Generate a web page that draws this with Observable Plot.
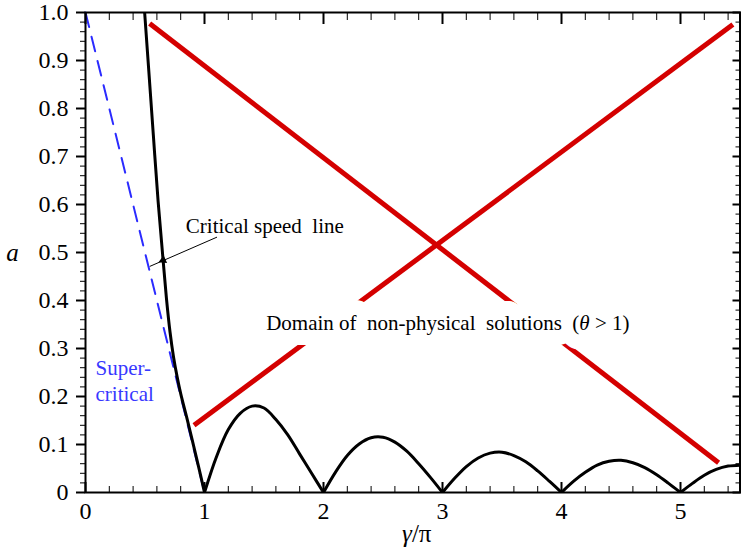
<!DOCTYPE html>
<html><head><meta charset="utf-8">
<script src="https://cdn.jsdelivr.net/npm/d3@7"></script>
<script src="https://cdn.jsdelivr.net/npm/@observablehq/plot@0.6"></script>
<style>
html,body{margin:0;padding:0;background:#fff;}
#chart{width:745px;height:549px;}
#chart svg text{white-space:pre;font-family:'Liberation Serif','Times New Roman',serif;}
</style>
</head><body><div id="chart"></div>
<script>
// ---- tick values / labels ----
const xMajorTicks = [0, 1, 2, 3, 4, 5];
const xTickLabels = ["0", "1", "2", "3", "4", "5"];
const yMajorTicks = [0, 0.1, 0.2, 0.3, 0.4, 0.5, 0.6, 0.7, 0.8, 0.9, 1.0];
const yTickLabels = ["0", "0.1", "0.2", "0.3", "0.4", "0.5", "0.6", "0.7", "0.8", "0.9", "1.0"];

// ---- critical speed line (black, steep branch) ----
const criticalX = [0.497, 0.53, 0.57, 0.61, 0.65, 0.68, 0.71, 0.74, 0.77, 0.80, 0.85, 0.90, 0.95, 1.0];
const criticalA = [1.0, 0.885, 0.745, 0.607, 0.49, 0.405, 0.335, 0.282, 0.241, 0.206, 0.157, 0.106, 0.054, 0.0];

// ---- super-critical line (blue dashed) ----
const superX = [0.0, 0.99];
const superA = [1.0, 0.01];

// ---- lobes of the black curve between integers ----
const lobeStart = [1, 2, 3, 4, 5];
const lobeOffset = [0, 0.1, 0.2, 0.3, 0.4, 0.5, 0.6, 0.7, 0.8, 0.9, 1.0];
const lobe1A = [0, 0.074, 0.131, 0.165, 0.180, 0.176, 0.152, 0.120, 0.080, 0.040, 0];
const lobe2A = [0, 0.042, 0.077, 0.101, 0.114, 0.115, 0.105, 0.086, 0.060, 0.031, 0];
const lobe3A = [0, 0.029, 0.054, 0.072, 0.082, 0.084, 0.077, 0.064, 0.045, 0.023, 0];
const lobe4A = [0, 0.023, 0.042, 0.057, 0.065, 0.067, 0.062, 0.052, 0.037, 0.019, 0];
const lobe5A = [0, 0.019, 0.036, 0.048, 0.055, 0.057];
const lobes = [lobe1A, lobe2A, lobe3A, lobe4A, lobe5A];

// ---- boundaries of the non-physical domain (red) ----
const redDownX = [0.539, 5.32];
const redDownA = [0.977, 0.062];
const redUpX = [0.912, 5.44];
const redUpA = [0.140, 0.975];

// ---- annotations ----
const critLabel = {text: "Critical speed  line", x: 0.843, a: 0.554};
const critArrow = {x1: 1.105, a1: 0.532, x2: 0.54, a2: 0.471, hx: 0.652, ha: 0.484};
const domainLabel = {text: "Domain of  non-physical  solutions  (θ > 1)", x: 1.518, a: 0.352};
const superLabels = [{text: "Super-", x: 0.084, a: 0.258}, {text: "critical", x: 0.084, a: 0.205}];

// ---- build tables ----
const critRows = criticalX.map((x, i) => ({x, a: criticalA[i]}));
const superRows = superX.map((x, i) => ({x, a: superA[i]}));
const lobeRows = lobes.flatMap((arr, k) => arr.map((a, j) => ({x: lobeStart[k] + lobeOffset[j], a, lobe: k})));
const redRows = [
  ...redDownX.map((x, i) => ({x, a: redDownA[i], s: "down"})),
  ...redUpX.map((x, i) => ({x, a: redUpA[i], s: "up"}))
];
const xMinor = d3.range(0, 5.5001, 0.2).map(v => +v.toFixed(2));
const yMinor = d3.range(0, 1.0001, 0.02).map(v => +v.toFixed(2));

const serif = "'Liberation Serif', 'Times New Roman', serif";

const chart = Plot.plot({
  width: 745,
  height: 549,
  marginLeft: 85,
  marginRight: 5.5,
  marginTop: 12,
  marginBottom: 57,
  style: {fontFamily: serif, fontSize: "21px", background: "white", color: "black", overflow: "visible"},
  x: {domain: [0, 5.5]},
  y: {domain: [0, 1]},
  marks: [
    // red boundaries
    Plot.line(redRows, {x: "x", y: "a", z: "s", stroke: "#d40000", strokeWidth: 5, strokeLinecap: "butt"}),
    // super-critical dashed
    Plot.line(superRows, {x: "x", y: "a", stroke: "#2b2bff", strokeWidth: 2, strokeDasharray: "15,10"}),
    // critical line
    Plot.line(critRows, {x: "x", y: "a", stroke: "black", strokeWidth: 3, curve: "catmull-rom", clip: true}),
    // lobes
    Plot.line(lobeRows, {x: "x", y: "a", z: "lobe", stroke: "black", strokeWidth: 3, curve: "catmull-rom", clip: true}),
    // white halo behind the domain label (interrupts the red lines)
    Plot.text([domainLabel], {x: "x", y: "a", text: "text", textAnchor: "start", lineAnchor: "middle",
      fontSize: 21, fill: "white", stroke: "white", strokeWidth: 30, strokeLinejoin: "round"}),
    Plot.text([domainLabel], {x: "x", y: "a", text: "text", textAnchor: "start", lineAnchor: "middle",
      fontSize: 21, fill: "black"}),
    // critical speed label + arrow
    Plot.text([critLabel], {x: "x", y: "a", text: "text", textAnchor: "start", lineAnchor: "middle", fontSize: 21, fill: "black"}),
    Plot.link([critArrow], {x1: "x1", y1: "a1", x2: "x2", y2: "a2", stroke: "black", strokeWidth: 1}),
    Plot.dot([critArrow], {x: "hx", y: "ha", symbol: "triangle", r: 3.2, fill: "black", rotate: -114}),
    // super-critical label
    Plot.text(superLabels, {x: "x", y: "a", text: "text", textAnchor: "start", lineAnchor: "middle", fontSize: 21, fill: "#3838ff"}),
    // ticks: bottom (inward)
    Plot.axisX(xMinor, {anchor: "bottom", tickSize: -6, strokeWidth: 1, tickFormat: () => "", label: null}),
    Plot.axisX(xMajorTicks, {anchor: "bottom", tickSize: -10, strokeWidth: 2, tickFormat: () => "", label: null}),
    // ticks: top (inward)
    Plot.axisX(xMinor, {anchor: "top", tickSize: -7, strokeWidth: 1, tickFormat: () => "", label: null}),
    Plot.axisX(xMajorTicks, {anchor: "top", tickSize: -11, strokeWidth: 2, tickFormat: () => "", label: null}),
    // ticks: left (outward)
    Plot.axisY(yMinor, {anchor: "left", tickSize: 5, strokeWidth: 1, tickFormat: () => "", label: null}),
    Plot.axisY(yMajorTicks, {anchor: "left", tickSize: 9, strokeWidth: 2, tickFormat: () => "", label: null}),
    // ticks: right (inward)
    Plot.axisY(yMinor, {anchor: "right", tickSize: -5, strokeWidth: 1, tickFormat: () => "", label: null}),
    Plot.axisY(yMajorTicks, {anchor: "right", tickSize: -8, strokeWidth: 2, tickFormat: () => "", label: null}),
    // tick labels
    Plot.text(xMajorTicks, {x: d => d, text: (d, i) => xTickLabels[i], frameAnchor: "bottom", dy: 19,
      lineAnchor: "middle", textAnchor: "middle", fontSize: 24, fill: "black"}),
    Plot.text(yMajorTicks, {y: d => d, text: (d, i) => yTickLabels[i], frameAnchor: "left", dx: -17,
      lineAnchor: "middle", textAnchor: "end", fontSize: 24, fill: "black"}),
    // axis titles
    Plot.text(["a"], {frameAnchor: "left", dx: -73, fontStyle: "italic", fontSize: 25, lineAnchor: "middle", textAnchor: "middle"}),
    Plot.text(["γ/π"], {frameAnchor: "bottom", dy: 41, dx: 4, fontSize: 25, lineAnchor: "middle", textAnchor: "middle"}),
    Plot.frame({stroke: "black", strokeWidth: 2})
  ]
});

// italic Greek letters inside labels
chart.querySelectorAll("text").forEach(t => {
  const s = t.textContent;
  if (s === "γ/π") {
    t.innerHTML = '<tspan font-style="italic">γ</tspan>/π';
  } else if (s.indexOf("(θ > 1)") >= 0) {
    t.innerHTML = s.replace("θ", '<tspan font-style="italic">θ</tspan>');
  }
});

document.getElementById("chart").appendChild(chart);
</script>
</body></html>
